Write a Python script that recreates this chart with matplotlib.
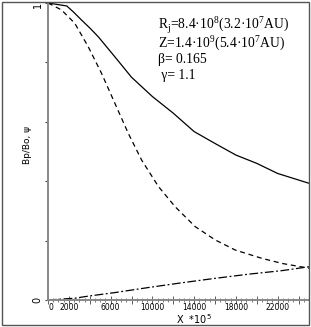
import matplotlib.pyplot as plt
from matplotlib.patches import Rectangle
from matplotlib.ticker import MultipleLocator

# solid curve: Bp/Bo
x_solid = [0, 1800, 2400, 3200, 4000, 4800, 5600, 6400, 8000, 10000, 12000, 14000, 16000, 18000, 20000, 22000, 25000]
y_solid = [1.0, 0.99, 0.971, 0.943, 0.916, 0.887, 0.853, 0.819, 0.750, 0.685, 0.629, 0.567, 0.527, 0.488, 0.460, 0.426, 0.393]

# dashed curve
x_dash = [0, 1280, 2560, 3850, 5130, 6410, 7690, 8970, 10580, 12180, 14100, 16030, 17950, 20510, 22440, 25000]
y_dash = [1.0, 0.977, 0.932, 0.853, 0.763, 0.662, 0.561, 0.471, 0.382, 0.314, 0.247, 0.202, 0.168, 0.140, 0.123, 0.107]

# dash-dot curve: psi
x_psi = [0, 2560, 3850, 6410, 9620, 12820, 16030, 19230, 22440, 25000]
y_psi = [0.0, 0.006, 0.013, 0.025, 0.042, 0.058, 0.073, 0.087, 0.099, 0.112]

x_labels = [2000, 6000, 10000, 14000, 18000, 22000]

W, H = 311, 327
fig = plt.figure(figsize=(W / 100, H / 100), dpi=100)
ax = fig.add_axes([48 / W, 1 - 300 / H, 261 / W, 297 / H])

ax.plot(x_solid, y_solid, color='black', lw=0.9)
ax.plot(x_dash, y_dash, color='black', lw=0.9, ls=(0, (4, 3)))
ax.plot(x_psi, y_psi, color='black', lw=0.9, ls=(0, (7, 2, 1.5, 2)))

ax.set_xlim(0, 25000)
ax.set_ylim(0, 1.0)

for s in ['top', 'right']:
    ax.spines[s].set_visible(False)
for s in ['left', 'bottom']:
    ax.spines[s].set_color('#888888')
    ax.spines[s].set_linewidth(1.4)

ax.xaxis.set_major_locator(MultipleLocator(2000))
ax.xaxis.set_minor_locator(MultipleLocator(500))
ax.set_xticklabels([])
ax.tick_params(axis='x', which='major', direction='inout', length=6, width=0.6, color='#444444')
ax.tick_params(axis='x', which='minor', direction='inout', length=3, width=0.5, color='#444444')
for xv in x_labels:
    ax.text(xv, -0.01, str(xv), ha='center', va='top', fontsize=5.5,
            family='DejaVu Sans', transform=ax.transData)
ax.text(0, -0.01, '0', ha='left', va='top', fontsize=5.5, family='DejaVu Sans')

ax.yaxis.set_major_locator(MultipleLocator(0.2))
ax.set_yticklabels([])
ax.tick_params(axis='y', direction='out', length=2, width=0.8, color='#444444')
ax.text(-0.02, 0.0, '0', transform=ax.transAxes, rotation=90, ha='right', va='center', fontsize=7)
ax.text(-0.02, 0.995, '1', transform=ax.transAxes, rotation=90, ha='right', va='center', fontsize=7)

fig.text(27 / W, 1 - 145 / H, 'Bp/Bo, ψ', rotation=90, ha='center', va='center',
         fontsize=6.5, family='DejaVu Sans')
fig.text(194 / W, 1 - 319 / H, r'X  $*10^5$', ha='center', va='center',
         fontsize=7, family='DejaVu Sans')

serif = 'Liberation Serif'
lines = [r'R$_\mathregular{j}$=8.4·10$^\mathregular{8}$(3.2·10$^\mathregular{7}$AU)',
         r'Z=1.4·10$^\mathregular{9}$(5.4·10$^\mathregular{7}$AU)',
         'β= 0.165',
         ' γ= 1.1']
ys = [25, 43, 59, 75]
for t, yy in zip(lines, ys):
    fig.text(158 / W, 1 - yy / H, t, ha='left', va='center', fontsize=9.8, family=serif)

fig.patches.append(Rectangle((2 / W, 1 - 325 / H), 307 / W, 323 / H, transform=fig.transFigure,
                             fill=False, edgecolor='#555555', lw=1.0))

fig.savefig('out.png', dpi=100)
